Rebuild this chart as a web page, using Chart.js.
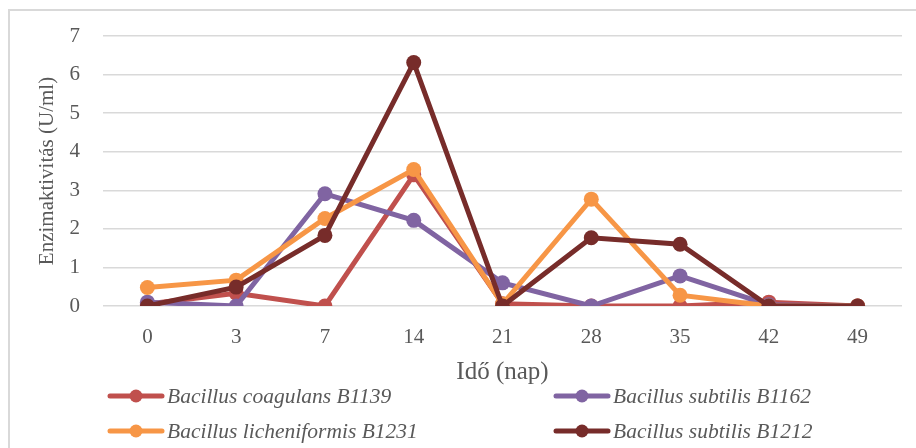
<!DOCTYPE html>
<html>
<head>
<meta charset="utf-8">
<script src="https://cdn.jsdelivr.net/npm/chart.js@4/dist/chart.umd.min.js"></script>
<style>
  html, body { margin: 0; padding: 0; background: #ffffff; }
  #wrap { width: 916px; height: 448px; }
</style>
</head>
<body>
<div id="wrap"><canvas id="c" width="916" height="448"></canvas></div>
<script>
// Sampling days
const days = ['0', '3', '7', '14', '21', '28', '35', '42', '49'];

// Enzyme activity (U/ml) per strain
const coagulansB1139 = [0.05, 0.33, 0, 3.4, 0.06, 0, 0, 0.1, 0];
const subtilisB1162 = [0.1, 0, 2.91, 2.22, 0.6, 0, 0.78, 0.03, 0];
const licheniformisB1231 = [0.48, 0.67, 2.27, 3.54, 0.05, 2.77, 0.28, 0, 0];
const subtilisB1212 = [0, 0.49, 1.83, 6.31, 0, 1.77, 1.6, 0, 0];

// Series names
const seriesNames = [
  'Bacillus coagulans B1139',
  'Bacillus subtilis B1162',
  'Bacillus licheniformis B1231',
  'Bacillus subtilis B1212'
];

const serifFont = "'Liberation Serif', 'DejaVu Serif', serif";
const textColor = '#595959';

function series(label, data, color, order) {
  return {
    label: label,
    data: data,
    borderColor: color,
    backgroundColor: color,
    pointBackgroundColor: color,
    pointBorderColor: color,
    borderWidth: 5,
    pointRadius: 7.5,
    pointBorderWidth: 0,
    pointHoverRadius: 7.5,
    tension: 0,
    order: order
  };
}

// Outer frame of the chart
const framePlugin = {
  id: 'frame',
  beforeDraw(chart) {
    const ctx = chart.ctx;
    ctx.save();
    ctx.fillStyle = '#ffffff';
    ctx.fillRect(0, 0, chart.width, chart.height);
    ctx.strokeStyle = '#D9D9D9';
    ctx.lineWidth = 2;
    ctx.strokeRect(9, 10, chart.width + 20, chart.height + 20);
    ctx.restore();
  }
};

// Two-column legend under the axis title
const gridLegend = {
  id: 'gridLegend',
  afterDraw(chart) {
    const ctx = chart.ctx;
    const cols = [108, 554];
    const rows = [396, 431];
    const lineLen = 56;
    ctx.save();
    ctx.font = 'italic 21.5px ' + serifFont;
    ctx.textBaseline = 'middle';
    ctx.textAlign = 'left';
    chart.data.datasets.forEach((ds, i) => {
      const x = cols[i % 2];
      const y = rows[Math.floor(i / 2)];
      ctx.strokeStyle = ds.borderColor;
      ctx.lineWidth = 5;
      ctx.lineCap = 'round';
      ctx.beginPath();
      ctx.moveTo(x + 2, y);
      ctx.lineTo(x + lineLen - 2, y);
      ctx.stroke();
      ctx.fillStyle = ds.borderColor;
      ctx.beginPath();
      ctx.arc(x + lineLen / 2, y, 6.5, 0, Math.PI * 2);
      ctx.fill();
      ctx.fillStyle = textColor;
      ctx.fillText(ds.label, x + lineLen + 3, y + 1);
    });
    ctx.restore();
  }
};

new Chart(document.getElementById('c'), {
  type: 'line',
  data: {
    labels: days,
    datasets: [
      series(seriesNames[0], coagulansB1139, '#C0504D', 4),
      series(seriesNames[1], subtilisB1162, '#8064A2', 3),
      series(seriesNames[2], licheniformisB1231, '#F79646', 2),
      series(seriesNames[3], subtilisB1212, '#772C2A', 1)
    ]
  },
  options: {
    responsive: false,
    animation: false,
    devicePixelRatio: 1,
    layout: { padding: { left: 35, right: 14, top: 36, bottom: 61 } },
    plugins: {
      legend: { display: false },
      tooltip: { enabled: false }
    },
    scales: {
      x: {
        offset: true,
        grid: { display: false, drawTicks: false },
        border: { display: false },
        ticks: {
          color: textColor,
          font: { family: serifFont, size: 21 },
          padding: 19,
          maxRotation: 0
        },
        title: {
          display: true,
          text: 'Idő (nap)',
          color: textColor,
          font: { family: serifFont, size: 25 },
          padding: { top: 0, bottom: 0 }
        },
        afterFit(scale) { scale.height = 81; }
      },
      y: {
        min: 0,
        max: 7,
        grid: { color: '#D9D9D9', lineWidth: 1.5, drawTicks: false },
        border: { display: false },
        ticks: {
          stepSize: 1,
          color: textColor,
          font: { family: serifFont, size: 21 },
          padding: 23
        },
        title: {
          display: true,
          text: 'Enzimaktivitás (U/ml)',
          color: textColor,
          font: { family: serifFont, size: 21 },
          padding: { top: 0, bottom: 0 }
        },
        afterFit(scale) { scale.width = 68; }
      }
    }
  },
  plugins: [framePlugin, gridLegend]
});
</script>
</body>
</html>
